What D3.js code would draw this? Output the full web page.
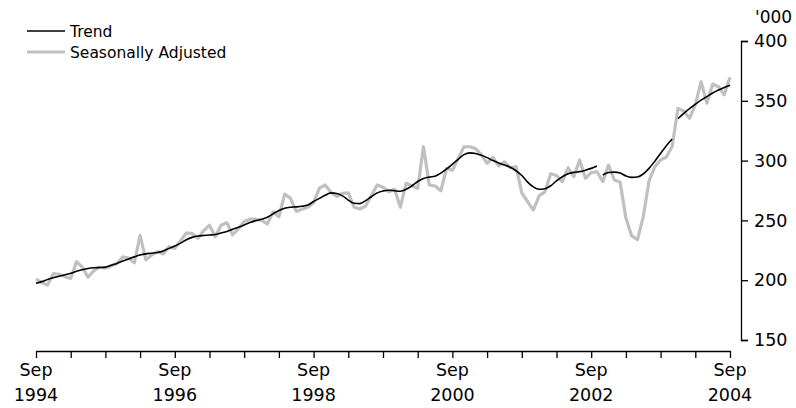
<!DOCTYPE html>
<html><head><meta charset="utf-8">
<script src="https://cdn.jsdelivr.net/npm/d3@7"></script>
<style>body{margin:0;background:#fff}svg{display:block}text{font-family:"DejaVu Sans",sans-serif;fill:#000}</style>
</head><body><svg id="c" width="796" height="408"></svg>
<script>
// Months from Sep 1994 (index 0) to Sep 2004 (index 120)
const startLabel = "Sep 1994";
const seasonallyAdjusted = [
 201,198,196,205.5,205,203,201.5,215.5,211,202.5,208,211,210,212,214,219.5,218.5,214.5,237.5,217,
 221,224,222,228,226.5,233,239.5,239,235,241.5,246,236.4,246,248,238,243,249,251,251,250,
 247,257,253,272,268.5,257.5,259.3,261,264.8,277,279.6,273.5,270,272.7,273,261,259.5,262,271,279.6,
 277.7,274,276,261,281,278.8,276.8,311.6,279.6,278.8,274.8,293.5,292,301.8,311.6,311.6,310,305,297.7,302.7,
 295.5,299,294,295,273,265.6,258.7,270.5,274,289,287.5,282.4,294,286.6,300.5,285.2,290,290.7,282.4,296.3,
 283.8,282,252,237,234,253,283,295,300.5,303,312,343.7,341.5,335.4,346.5,366,348,364,361.8,355,369.6
];
// Trend is published in three segments (breaks in series)
const trendSeg1Start = 0;
const trendSeg1 = [
 197.5,198.8,200.5,202,203.3,204.6,205.8,207.5,208.8,209.8,210.4,210.6,210.9,212.5,214,216,217.8,219.5,221,222,
 222.6,223.2,224.5,226.6,228.6,231,233.8,235.8,237,237.4,237.8,238.2,239.5,240.8,242.5,244.3,246.2,248.2,249.8,251,
 252.6,255.5,258.3,260.2,261,261.3,261.8,262.8,265.8,268.4,271,273,272.5,270.5,267,264.3,264,266.5,269.8,273,
 274.6,275.2,274.8,274.4,276,279,282.5,285,286.2,287,289.5,293,297,301,305,306.5,306,304.5,302.5,300,
 298,296.3,294.5,291.5,287.5,282,278,276,276.5,279,283,286.5,289,290.2,290.8,292,293.5,295.5
];
const trendSeg2Start = 98;
const trendSeg2 = [288,290,290.4,289.6,287.2,286,286.3,288.8,293.5,299.5,306,312.5,318];
const trendSeg3Start = 111;
const trendSeg3 = [335,339.5,343.5,347,350.5,353.5,356.5,359,361.2,363];

const yTicks = [150,200,250,300,350,400];
const xTickMonths = d3.range(0,121,6);
const xLabelMonths = [0,24,48,72,96,120];
const xLabelTop = ["Sep","Sep","Sep","Sep","Sep","Sep"];
const xLabelBottom = ["1994","1996","1998","2000","2002","2004"];
const yUnit = "'000";
const legendLabels = ["Trend","Seasonally Adjusted"];

const svg = d3.select("#c");
const x = d3.scaleLinear().domain([0,120]).range([36,730]);
const y = d3.scaleLinear().domain([150,400]).range([340,41]);

// x axis
const xAxis = svg.append("g").attr("transform","translate(0,351)")
  .call(d3.axisBottom(x).tickValues(xTickMonths).tickSize(7).tickSizeOuter(0).tickFormat(""));
xAxis.select(".domain").attr("stroke","#000").attr("stroke-width",1.3);
xAxis.selectAll(".tick line").attr("stroke","#000").attr("stroke-width",1.3);
const xl = svg.append("g");
xLabelMonths.forEach((m,i)=>{
  xl.append("text").attr("x",x(m)).attr("y",376).attr("text-anchor","middle").style("font-size","17.5px").text(xLabelTop[i]);
  xl.append("text").attr("x",x(m)).attr("y",401).attr("text-anchor","middle").style("font-size","17.5px").text(xLabelBottom[i]);
});

// y axis (right)
const yAxis = svg.append("g").attr("transform","translate(741,0)")
  .call(d3.axisRight(y).tickValues(yTicks).tickSize(7).tickSizeOuter(7).tickPadding(6));
yAxis.select(".domain").attr("stroke","#000").attr("stroke-width",1.3);
yAxis.selectAll(".tick line").attr("stroke","#000").attr("stroke-width",1.3);
yAxis.selectAll(".tick text").style("font-family","DejaVu Sans").style("font-size","17.5px").attr("fill","#000");
svg.append("text").attr("x",755).attr("y",23).style("font-size","17px").text(yUnit);

const line = d3.line().x(d=>x(d[0])).y(d=>y(d[1]));
const saPts = seasonallyAdjusted.map((v,i)=>[i,v]);
svg.append("path").attr("d",line(saPts)).attr("fill","none").attr("stroke","#c0c0c0").attr("stroke-width",3.2).attr("stroke-linejoin","round");
[[trendSeg1Start,trendSeg1],[trendSeg2Start,trendSeg2],[trendSeg3Start,trendSeg3]].forEach(([s,arr])=>{
  const pts = arr.map((v,i)=>[s+i,v]);
  svg.append("path").attr("d",line.curve(d3.curveMonotoneX)(pts)).attr("fill","none").attr("stroke","#000").attr("stroke-width",1.6);
});

// legend
const lg = svg.append("g");
lg.append("line").attr("x1",27).attr("x2",65).attr("y1",31).attr("y2",31).attr("stroke","#000").attr("stroke-width",1.6);
lg.append("line").attr("x1",27).attr("x2",65).attr("y1",52).attr("y2",52).attr("stroke","#c0c0c0").attr("stroke-width",3.2);
lg.append("text").attr("x",70).attr("y",36.5).style("font-size","15.5px").text(legendLabels[0]);
lg.append("text").attr("x",70).attr("y",57.5).style("font-size","15.5px").text(legendLabels[1]);
</script></body></html>
